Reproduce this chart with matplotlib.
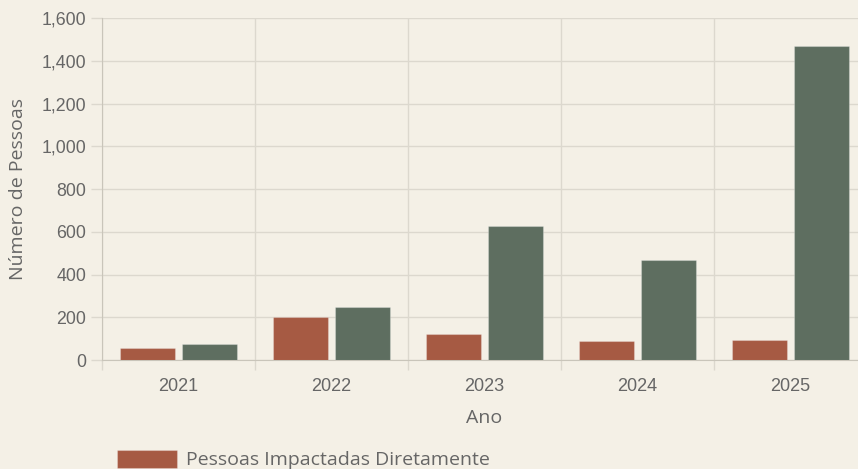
import matplotlib

matplotlib.use("Agg")

import matplotlib.pyplot as plt
from matplotlib.ticker import FuncFormatter, MultipleLocator
import numpy as np

anos = ["2021", "2022", "2023", "2024", "2025"]
diretas = [58, 200, 122, 90, 92]
indiretas = [77, 248, 628, 467, 1470]
series = ["Pessoas Impactadas Diretamente", "Pessoas Impactadas Indiretamente"]

BG = "#F4F0E6"
RED = "#A65A43"
GREEN = "#5E6E60"
GRID = "#DCD8CE"
AXIS = "#C9C5BA"
TXT = "#666666"
TICK_FONT = ["Liberation Sans", "DejaVu Sans"]
LABEL_FONT = ["Open Sans", "DejaVu Sans"]

fig = plt.figure(figsize=(8.58, 4.69), dpi=100, facecolor=BG)
# the axes runs a little past the right edge, as in the reference crop
ax = fig.add_axes([102 / 858, 109 / 469, 765 / 858, 342 / 469], facecolor=BG)

x = np.arange(len(anos))
w = 0.36
ax.bar(x - 0.2, diretas, w, color=RED, edgecolor=(1, 1, 1, 0.25),
       linewidth=0.8, label=series[0], zorder=3)
ax.bar(x + 0.2, indiretas, w, color=GREEN, edgecolor=(1, 1, 1, 0.25),
       linewidth=0.8, label=series[1], zorder=3)

ax.set_xlim(-0.5, len(anos) - 0.5)
ax.set_ylim(0, 1600)
ax.yaxis.set_major_locator(MultipleLocator(200))
ax.yaxis.set_major_formatter(FuncFormatter(lambda v, p: f"{int(v):,}"))

ax.set_xticks(x)
ax.set_xticklabels(anos)
ax.set_xticks(np.arange(-0.5, len(anos)), minor=True)
ax.tick_params(axis="x", which="major", length=0, pad=13, labelsize=13,
               labelcolor=TXT)
ax.tick_params(axis="x", which="minor", length=7.5, color=GRID, width=1)
ax.tick_params(axis="y", length=8, color=GRID, width=1, pad=3.5,
               labelsize=12.8, labelcolor=TXT)
for lab in ax.get_xticklabels() + ax.get_yticklabels():
    lab.set_family(TICK_FONT)

ax.grid(True, axis="y", color=GRID, linewidth=1, zorder=0)
ax.grid(True, axis="x", which="minor", color=GRID, linewidth=1, zorder=0)

for s in ["top", "right"]:
    ax.spines[s].set_visible(False)
ax.spines["left"].set_color(AXIS)
ax.spines["bottom"].set_color(AXIS)

ax.set_xlabel("Ano", fontsize=14, color=TXT, family=LABEL_FONT, labelpad=10)
ax.set_ylabel("Número de Pessoas", fontsize=14, color=TXT,
              family=LABEL_FONT, labelpad=10)

# second entry falls below the bottom edge, as in the reference crop
fig.legend(loc="upper left", bbox_to_anchor=(99 / 858, 1 - 432 / 469),
           frameon=False, ncol=1, handlelength=3.1, handleheight=1.1,
           handletextpad=0.5, labelspacing=1.0,
           prop={"family": LABEL_FONT, "size": 14}, labelcolor=TXT)

fig.savefig("out.png", dpi=100, facecolor=BG)
